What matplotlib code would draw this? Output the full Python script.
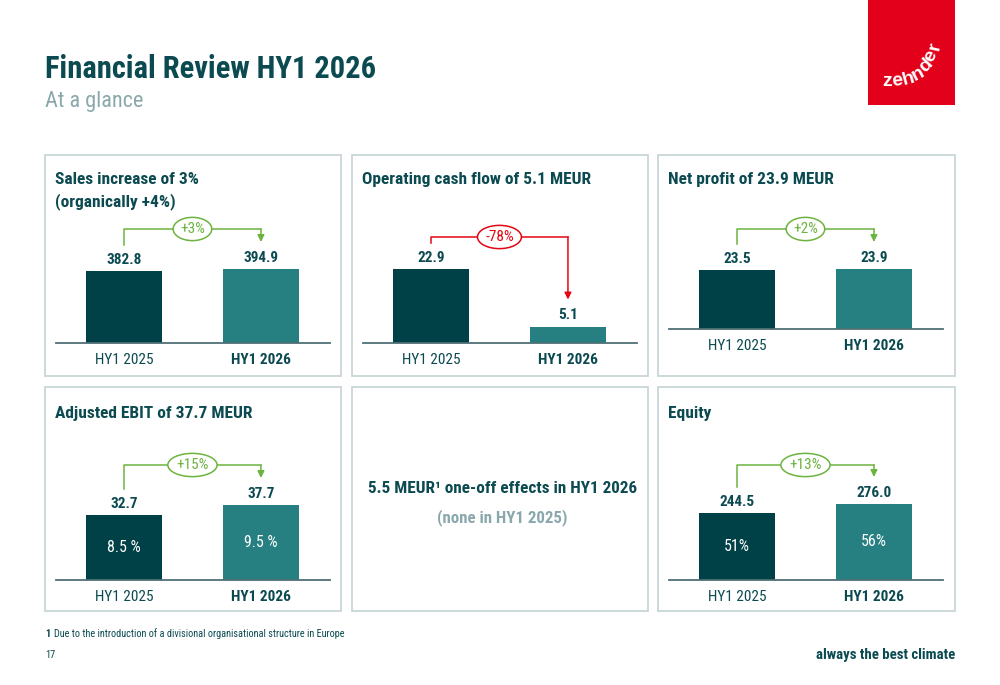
import matplotlib
matplotlib.use("Agg")
import matplotlib.pyplot as plt
from matplotlib.patches import Rectangle

plt.rcParams['font.family'] = ['Roboto Condensed', 'Liberation Sans', 'DejaVu Sans']

# data
periods = ['HY1 2025', 'HY1 2026']
sales = [382.8, 394.9]
cash_flow = [22.9, 5.1]
net_profit = [23.5, 23.9]
ebit = [32.7, 37.7]
ebit_margin = ['8.5', '9.5']
equity = [244.5, 276.0]
equity_ratio = ['51', '56']
changes = ['+3%', '-78%', '+2%', '+15%', '+13%']

DARK = '#004148'
LIGHT = '#267f80'
TXT = '#0b4a50'
GREY = '#8aa8ac'
BORDER = '#c9d6d9'
GREEN = '#6cb33f'
RED = '#e30613'
W, H = 1000, 685

fig = plt.figure(figsize=(10, 6.85), dpi=100)
bg = fig.add_axes([0, 0, 1, 1])
bg.set_xlim(0, W)
bg.set_ylim(H, 0)
bg.axis('off')

# header
bg.text(45, 78, 'Financial Review HY1 2026', fontsize=22, fontweight='bold', color=TXT, va='baseline')
bg.text(45, 107, 'At a glance', fontsize=16, color=GREY, va='baseline')

# logo
bg.add_patch(Rectangle((868, 0), 87, 105, color='#e2001a', lw=0))
logo = [('z', 887, 86, 0), ('e', 898, 85, 6), ('h', 909, 83, 15), ('n', 920, 78, 28),
        ('d', 929, 69, 46), ('e', 935, 58, 63), ('r', 939, 47, 78)]
for ch, lx, ly, rot in logo:
    bg.text(lx, ly, ch, color='white', fontsize=14, fontweight='bold', ha='center',
            va='baseline', rotation=rot, rotation_mode='anchor', family='Liberation Sans')

# panel frames
rows = [(155, 376), (387, 611)]
cols = [(45, 341), (352, 648), (658, 955)]
for y0, y1 in rows:
    for x0, x1 in cols:
        bg.add_patch(Rectangle((x0, y0), x1 - x0, y1 - y0, fill=False, ec=BORDER, lw=1.3))

# panel titles
title_kw = dict(fontsize=12.5, fontweight='bold', color=TXT, va='baseline')
bg.text(55, 184, 'Sales increase of 3%', **title_kw)
bg.text(55, 206, '(organically +4%)', **title_kw)
bg.text(362, 184, 'Operating cash flow of 5.1 MEUR', **title_kw)
bg.text(668, 184, 'Net profit of 23.9 MEUR', **title_kw)
bg.text(55, 418, 'Adjusted EBIT of 37.7 MEUR', **title_kw)
bg.text(668, 418, 'Equity', **title_kw)

# middle panel
bg.text(503, 493, '5.5 MEUR¹ one-off effects in HY1 2026', fontsize=12.3, fontweight='bold',
        color=TXT, ha='center', va='baseline')
bg.text(502, 522, '(none in HY1 2025)', fontsize=12.2, fontweight='bold', color=GREY,
        ha='center', va='baseline')

# footer
bg.text(45, 637, '1', fontsize=7.5, fontweight='bold', color=TXT, va='baseline')
bg.text(54, 637, 'Due to the introduction of a divisional organisational structure in Europe',
        fontsize=7.4, color=TXT, va='baseline')
bg.text(45, 658, '17', fontsize=7.5, color=TXT, va='baseline')
bg.text(955, 659, 'always the best climate', fontsize=10.7, fontweight='bold', color=TXT,
        ha='right', va='baseline')


def bar_panel(left, base, bracket_h, max_px, values, change, color, inner=None):
    ax = fig.add_axes([(left + 11) / W, 1 - base / H, 274 / W, bracket_h / H])
    ymax = max(values) * bracket_h / max_px
    s = bracket_h / ymax  # px per unit
    ax.set_xlim(-0.496, 1.504)
    ax.set_ylim(0, ymax)
    ax.bar([0, 1], values, width=0.555, color=[DARK, LIGHT])
    ax.axhline(0, color='#4f6f76', lw=1.3, clip_on=False)
    for sp in ax.spines.values():
        sp.set_visible(False)
    ax.set_yticks([])
    ax.set_xticks([0, 1])
    ax.set_xticklabels(periods, fontsize=11, color=TXT)
    ax.get_xticklabels()[1].set_fontweight('bold')
    ax.tick_params(axis='x', length=0, pad=7)
    ax.patch.set_alpha(0)
    for i, v in enumerate(values):
        ax.annotate(f'{v:.1f}', (i, v), xytext=(0, 3), textcoords='offset points',
                    ha='center', va='bottom', fontsize=11, fontweight='bold', color=TXT)
    # bracket
    ax.plot([0, 0, 1], [values[0] + 26 / s, ymax, ymax], color=color, lw=1.1, clip_on=False)
    ax.annotate('', xy=(1, values[1] + 27 / s), xytext=(1, ymax),
                arrowprops=dict(arrowstyle='-|>', color=color, lw=1.1, mutation_scale=10,
                                shrinkA=0, shrinkB=0), annotation_clip=False)
    ax.text(0.5, ymax, change, fontsize=11, color=color, ha='center', va='center',
            bbox=dict(boxstyle='ellipse,pad=0.08', fc='white', ec=color, lw=1.1))
    if inner:
        for i, v in enumerate(values):
            ax.text(i, v / 2, inner[i], fontsize=11.5, color='white', ha='center', va='center')
    return ax


bar_panel(45, 343, 114, 74, sales, changes[0], GREEN)
bar_panel(352, 343, 106, 74, cash_flow, changes[1], RED)
bar_panel(658, 329, 100, 60, net_profit, changes[2], GREEN)
bar_panel(45, 580, 115, 75, ebit, changes[3], GREEN, [m + ' %' for m in ebit_margin])
bar_panel(658, 580, 115, 76, equity, changes[4], GREEN, [r + '%' for r in equity_ratio])

fig.savefig('out.png', dpi=100)
